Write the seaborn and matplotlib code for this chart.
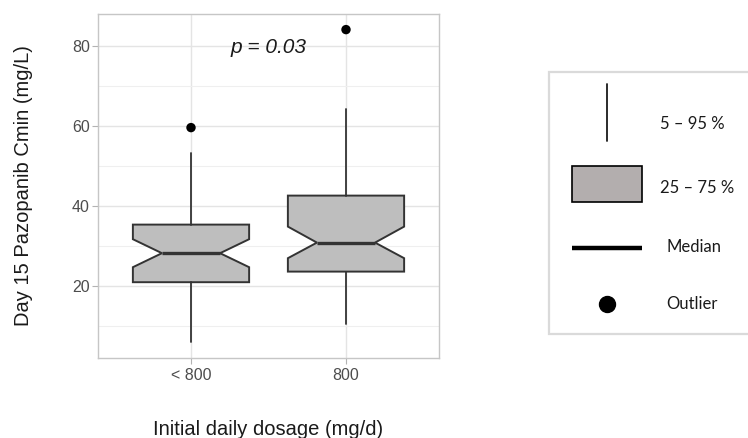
"""
Day 15 pazopanib Cmin by initial daily dose, notched box plot with a
hand-drawn key on the right (whisker = 5-95 %, box = 25-75 %).
Box statistics were read off the published figure, no raw data.
"""
import matplotlib
matplotlib.use("Agg")
import matplotlib.pyplot as plt
import pandas as pd
import seaborn as sns
from matplotlib.lines import Line2D
from matplotlib.patches import Rectangle
from matplotlib.ticker import MultipleLocator

sns.set_theme(style="whitegrid")
plt.rcParams["font.family"] = ["Liberation Sans", "DejaVu Sans"]

OUT_PNG = "out.png"
FIG_W, FIG_H = 748, 438   # pixels, dpi=100

# --- values (mg/L) ---
GROUPS = ["< 800", "800"]
WHISKER_LOW = [5.85, 10.35]    # 5th percentile
Q1 = [20.85, 23.5]
MEDIAN = [28.1, 30.75]
Q3 = [35.25, 42.5]
WHISKER_HIGH = [53.2, 64.2]    # 95th percentile
NOTCH_LOW = [24.6, 26.85]
NOTCH_HIGH = [31.6, 34.75]
OUTLIER_GROUP = ["< 800", "800"]
OUTLIER_VALUE = [59.5, 84.0]
P_TEXT = "p = 0.03"

Y_TICKS = [20, 40, 60, 80]
X_LABEL = "Initial daily dosage (mg/d)"
Y_LABEL = "Day 15 Pazopanib Cmin (mg/L)"
KEY_LABELS = ["5 – 95 %", "25 – 75 %", "Median", "Outlier"]

BOX_FILL = "#bebebe"
LINE_DARK = "#333333"
KEY_FILL = "#b3aeae"


def px(x, y):
    # pixel position (top-left origin) -> figure fraction
    return x / FIG_W, 1 - y / FIG_H


def draw_boxes(ax):
    stats = []
    for i, g in enumerate(GROUPS):
        stats.append(dict(
            label=g, whislo=WHISKER_LOW[i], q1=Q1[i], med=MEDIAN[i],
            q3=Q3[i], whishi=WHISKER_HIGH[i],
            cilo=NOTCH_LOW[i], cihi=NOTCH_HIGH[i], fliers=[],
        ))
    ax.bxp(
        stats, positions=list(range(len(GROUPS))), widths=0.75,
        shownotches=True, showcaps=False, showfliers=False,
        patch_artist=True, manage_ticks=False,
        boxprops=dict(facecolor=BOX_FILL, edgecolor=LINE_DARK, linewidth=1.4),
        medianprops=dict(color=LINE_DARK, linewidth=2.4),
        whiskerprops=dict(color=LINE_DARK, linewidth=1.3),
    )

    outliers = pd.DataFrame({"group": OUTLIER_GROUP, "value": OUTLIER_VALUE})
    outliers["pos"] = outliers["group"].map({g: i for i, g in enumerate(GROUPS)})
    sns.scatterplot(data=outliers, x="pos", y="value", ax=ax, color="black",
                    s=46, edgecolor="none", zorder=4, legend=False)


def style_axes(ax):
    ax.set_xlim(-0.6, 1.6)
    ax.set_ylim(1.9, 87.9)
    ax.set_xticks(range(len(GROUPS)))
    ax.set_xticklabels(GROUPS)
    ax.set_yticks(Y_TICKS)
    ax.yaxis.set_minor_locator(MultipleLocator(10))
    ax.set_xlabel("")
    ax.set_ylabel("")

    ax.grid(which="major", color="#e4e4e4", linewidth=1.0)
    ax.grid(which="minor", axis="y", color="#efefef", linewidth=0.8)
    for sp in ax.spines.values():
        sp.set_color("#c6c6c6")
        sp.set_linewidth(1.0)

    ax.tick_params(which="major", bottom=True, left=True, length=4, width=0.8,
                   color="#b3b3b3", labelcolor="#4d4d4d", labelsize=11.5)
    ax.tick_params(axis="y", which="major", pad=2)
    ax.tick_params(axis="x", which="major", pad=3.5)
    ax.tick_params(which="minor", left=False, bottom=False, length=0)

    ax.text(0.5, 78.2, P_TEXT, ha="center", va="baseline", fontsize=15,
            style="italic", color="#1a1a1a")


def draw_key(fig):
    x0, y0 = px(549, 334)
    x1, y1 = px(762, 72)
    fig.add_artist(Rectangle((x0, y0), x1 - x0, y1 - y0, transform=fig.transFigure,
                             facecolor="white", edgecolor="#dadada", linewidth=1.6))

    ax_x, top = px(607, 84)
    _, bot = px(607, 141)
    fig.add_artist(Line2D([ax_x, ax_x], [bot, top], transform=fig.transFigure,
                          color="#1a1a1a", linewidth=1.3))

    rx0, ry0 = px(572, 202)
    rx1, ry1 = px(642, 166)
    fig.add_artist(Rectangle((rx0, ry0), rx1 - rx0, ry1 - ry0, transform=fig.transFigure,
                             facecolor=KEY_FILL, edgecolor="black", linewidth=1.2))

    mx0, my = px(572, 248)
    mx1, _ = px(642, 248)
    fig.add_artist(Line2D([mx0, mx1], [my, my], transform=fig.transFigure,
                          color="black", linewidth=3.2, solid_capstyle="butt"))

    dx, dy = px(607, 304)
    fig.add_artist(Line2D([dx], [dy], transform=fig.transFigure, marker="o",
                          markersize=11.5, color="black", linestyle="none"))

    for label, (tx, ty) in zip(KEY_LABELS, [(660, 124), (660, 188), (666, 247), (666, 304)]):
        fx, fy = px(tx, ty)
        fig.text(fx, fy, label, ha="left", va="center", fontsize=12,
                 family=["Lato", "DejaVu Sans"], color="#1a1a1a")


def main():
    fig = plt.figure(figsize=(FIG_W / 100, FIG_H / 100), dpi=100)
    left, bottom = px(98, 358)
    right, top = px(439, 14)
    ax = fig.add_axes([left, bottom, right - left, top - bottom])

    draw_boxes(ax)
    style_axes(ax)

    fx, fy = px(268, 435)
    fig.text(fx, fy, X_LABEL, ha="center", va="baseline", fontsize=14.5, color="#1a1a1a")
    fx, fy = px(24, 185.5)
    fig.text(fx, fy, Y_LABEL, ha="center", va="center", rotation=90,
             fontsize=14.5, color="#1a1a1a")

    draw_key(fig)
    fig.savefig(OUT_PNG, dpi=100)


if __name__ == "__main__":
    main()
